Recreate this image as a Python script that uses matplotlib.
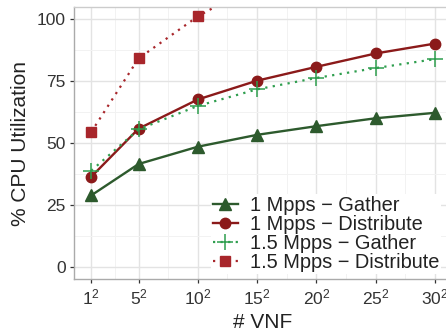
import matplotlib
matplotlib.use("Agg")
import matplotlib.pyplot as plt

plt.rcParams['font.family'] = ['Liberation Sans', 'DejaVu Sans']
plt.rcParams['mathtext.fontset'] = 'custom'
plt.rcParams['mathtext.rm'] = 'Liberation Sans'
plt.rcParams['mathtext.it'] = 'Liberation Sans:italic'
plt.rcParams['mathtext.bf'] = 'Liberation Sans:bold'

# data
vnf_sqrt = [1, 5, 10, 15, 20, 25, 30]
tick_labels = [r'$\mathregular{%d^2}$' % v for v in vnf_sqrt]
gather_1 = [28.8, 41.5, 48.5, 53.3, 56.8, 60.0, 62.2]
distribute_1 = [36.3, 55.8, 67.6, 75.2, 80.8, 86.2, 90.2]
gather_15 = [38.8, 55.5, 65.0, 71.7, 76.3, 80.3, 83.9]
distribute_15 = [54.4, 84.2, 101.2, 114.5, 124.0, 131.0, 137.0]
labels = ['1 Mpps − Gather', '1 Mpps − Distribute',
          '1.5 Mpps − Gather', '1.5 Mpps − Distribute']

W, H = 446, 335
fig = plt.figure(figsize=(W / 100, H / 100), dpi=100)
ax = fig.add_axes([74 / W, (H - 279) / H, (452 - 74) / W, (279 - 7) / H])

c_g1 = '#2d5a2d'
c_d1 = '#8b1a1a'
c_g15 = '#2e9e4e'
c_d15 = '#a8262b'
dot = (0, (1, 2.4))

ax.plot(vnf_sqrt, gather_1, color=c_g1, lw=1.7, marker='^', ms=8.5, label=labels[0], zorder=3)
ax.plot(vnf_sqrt, distribute_1, color=c_d1, lw=1.7, marker='o', ms=7.5, label=labels[1], zorder=4)
ax.plot(vnf_sqrt, gather_15, color=c_g15, lw=1.6, ls=dot, marker='+', ms=11, mew=1.1, label=labels[2], zorder=5)
ax.plot(vnf_sqrt, distribute_15, color=c_d15, lw=1.6, ls=dot, marker='s', ms=7.5, label=labels[3], zorder=3)

ax.set_xlim(-0.45, 31.45)
ax.set_ylim(-5, 105)
ax.set_xticks(vnf_sqrt)
ax.set_xticklabels(tick_labels)
ax.set_yticks([0, 25, 50, 75, 100])
minor_x = [(a + b) / 2 for a, b in zip(vnf_sqrt[:-1], vnf_sqrt[1:])]
ax.set_xticks(minor_x, minor=True)
ax.set_yticks([12.5, 37.5, 62.5, 87.5], minor=True)
ax.grid(True, which='major', color='#e3e3e3', lw=1.0)
ax.grid(True, which='minor', color='#f2f2f2', lw=0.7)
ax.set_axisbelow(True)
ax.tick_params(which='minor', length=0)
ax.tick_params(which='major', length=3, width=0.9, color='#333333', labelsize=12.5,
               labelcolor='#333333', pad=3)
for s in ['left', 'bottom', 'top']:
    ax.spines[s].set_color('#aaaaaa')
    ax.spines[s].set_linewidth(1.0)
ax.spines['top'].set_color('#cccccc')
ax.spines['right'].set_visible(False)

ax.set_xlabel('# VNF', fontsize=15, color='#222222', labelpad=4)
ax.set_ylabel('% CPU Utilization', fontsize=15, color='#222222', labelpad=5)

leg = ax.legend(loc='lower right', bbox_to_anchor=(441 / W, (H - 274) / H),
                bbox_transform=fig.transFigure, fontsize=14.4, frameon=True,
                facecolor='white', edgecolor='none', framealpha=1,
                handlelength=1.25, handletextpad=0.6, labelspacing=0.0,
                borderpad=0.1, borderaxespad=0)
for t in leg.get_texts():
    t.set_color('#222222')

fig.savefig('out.png', dpi=100)
